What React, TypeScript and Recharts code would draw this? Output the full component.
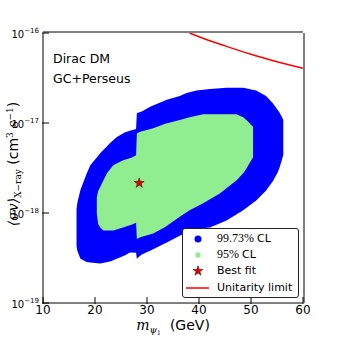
import React from 'react';
import { ComposedChart, Area, Line, Scatter, XAxis, YAxis, Legend, Customized, Symbols } from 'recharts';

// 99.73% CL region (blue): mass, lower and upper edge of <sigma v>
const blueMass = [16.45, 16.6, 17.2, 18.4, 19.1, 21.0, 22.9, 24.2, 25.8, 26.7, 27.9, 28.05, 28.4, 29.0, 30.6, 33.8, 36.3, 37.6, 39.5, 42.1, 45.3, 48.5, 51.0, 52.9, 54.2, 55.1, 55.5, 56.0, 56.2];
const blueLow = [4.3e-19, 3.8e-19, 3.1e-19, 2.85e-19, 2.82e-19, 2.75e-19, 2.9e-19, 3.1e-19, 3.4e-19, 3.65e-19, 3.62e-19, 3.1e-19, 3.25e-19, 3.45e-19, 3.8e-19, 4.7e-19, 5.6e-19, 6.1e-19, 6.7e-19, 6.9e-19, 8.25e-19, 1.07e-18, 1.38e-18, 1.78e-18, 2.25e-18, 2.8e-18, 3.2e-18, 4.0e-18, 4.4e-18];
const blueHigh = [1.1e-18, 1.3e-18, 1.8e-18, 2.75e-18, 3.4e-18, 4.6e-18, 6.0e-18, 7.0e-18, 7.9e-18, 8.2e-18, 8.6e-18, 1.29e-17, 1.31e-17, 1.34e-17, 1.52e-17, 1.81e-17, 2.0e-17, 2.15e-17, 2.3e-17, 2.38e-17, 2.47e-17, 2.47e-17, 2.3e-17, 2.0e-17, 1.66e-17, 1.4e-17, 1.3e-17, 1.15e-17, 1.08e-17];

// 95% CL region (green)
const greenMass = [20.35, 20.6, 21.0, 21.6, 22.3, 23.5, 25.4, 27.0, 27.9, 28.05, 28.7, 31.2, 33.5, 36.3, 38.2, 40.8, 44.0, 46.5, 47.2, 48.5, 49.1, 49.7, 50.4];
const greenLow = [9.9e-19, 7.6e-19, 6.9e-19, 6.4e-19, 6.4e-19, 6.4e-19, 6.9e-19, 7.4e-19, 7.8e-19, 5.15e-19, 5.37e-19, 5.9e-19, 7.0e-19, 9.1e-19, 1.07e-18, 1.28e-18, 1.65e-18, 2.14e-18, 2.3e-18, 2.76e-18, 3.1e-18, 3.57e-18, 4.17e-18];
const greenHigh = [1.5e-18, 1.75e-18, 1.94e-18, 2.3e-18, 2.76e-18, 3.4e-18, 3.86e-18, 4.1e-18, 4.38e-18, 7.67e-18, 8.0e-18, 8.73e-18, 9.8e-18, 1.08e-17, 1.16e-17, 1.25e-17, 1.25e-17, 1.25e-17, 1.25e-17, 1.16e-17, 1.08e-17, 1.0e-17, 9.0e-18];

// Unitarity limit
const unitarityMass = [38.2, 40, 45, 50, 55, 60];
const unitaritySigma = [1.0e-16, 9.1e-17, 7.2e-17, 5.8e-17, 4.8e-17, 4.05e-17];

// Best fit
const bestFitMass = [28.5];
const bestFitSigma = [2.15e-18];

// Axis ticks
const xMajor = [10, 20, 30, 40, 50, 60];
const xMinor = [12, 14, 16, 18, 22, 24, 26, 28, 32, 34, 36, 38, 42, 44, 46, 48, 52, 54, 56, 58];
const yMajor = [1e-19, 1e-18, 1e-17, 1e-16];
const yDecades = [-19, -18, -17];
const yMultipliers = [2, 3, 4, 5, 6, 7, 8, 9];
const yMinor = yDecades.flatMap((d) => yMultipliers.map((m) => m * Math.pow(10, d)));

const legendNums = ['99.73%', '95%', '', ''];
const legendWords = ['CL', 'CL', 'Best fit', 'Unitarity limit'];
const annotations = ['Dirac DM', 'GC+Perseus'];

const blueData = blueMass.map((m, i) => ({ x: m, range: [blueLow[i], blueHigh[i]] }));
const greenData = greenMass.map((m, i) => ({ x: m, range: [greenLow[i], greenHigh[i]] }));
const unitData = unitarityMass.map((m, i) => ({ x: m, y: unitaritySigma[i] }));
const bestData = bestFitMass.map((m, i) => ({ x: m, y: bestFitSigma[i] }));

const SANS = 'DejaVu Sans';
const SERIF = 'DejaVu Serif';

const BottomLabel = (props: any) => {
  const { x, y, payload } = props;
  return (
    <text x={x} y={y} textAnchor="middle" fontSize={12} fontFamily={SANS} fill="#000">
      {payload.value}
    </text>
  );
};

const LeftLabel = (props: any) => {
  const { x, y, payload } = props;
  const exp = Math.round(Math.log10(payload.value));
  return (
    <text x={x} y={y + 5} textAnchor="end" fontSize={10} fontFamily={SANS} fill="#000">
      10
      <tspan dy={-5} fontSize={7}>{'\u2212' + Math.abs(exp)}</tspan>
    </text>
  );
};

const Star = (props: any) => (
  <Symbols cx={props.cx} cy={props.cy} type="star" size={30} fill="#e60000" stroke="#5a0000" strokeWidth={0.6} />
);

const Overlay = () => (
  <g>
    <text x={53} y={63} fontSize={12.5} fontFamily={SANS} fill="#000">{annotations[0]}</text>
    <text x={53} y={83} fontSize={12.5} fontFamily={SANS} fill="#000">{annotations[1]}</text>
    <text x={173} y={330} textAnchor="middle" fontSize={14} fontFamily={SANS} fill="#000">
      <tspan fontFamily={SERIF} fontStyle="italic">m</tspan>
      <tspan fontFamily={SERIF} fontStyle="italic" fontSize={9.5} dy={3}>ψ</tspan>
      <tspan fontFamily={SERIF} fontSize={6.5} dy={2}>1</tspan>
      <tspan dy={-5}>{'\u00a0\u00a0(GeV)'}</tspan>
    </text>
    <text transform="translate(18,164) rotate(-90)" textAnchor="middle" fontSize={14} fontFamily={SANS} fill="#000">
      <tspan fontFamily={SERIF} fontStyle="italic">⟨σv⟩</tspan>
      <tspan fontFamily={SERIF} fontSize={9} dy={3}>X−ray</tspan>
      <tspan dy={-3}>{'\u00a0(cm'}</tspan>
      <tspan fontFamily={SERIF} fontSize={9} dy={-5}>3</tspan>
      <tspan fontFamily={SERIF} fontStyle="italic" dy={5}>{'\u00a0s'}</tspan>
      <tspan fontFamily={SERIF} fontSize={9} dy={-5}>−1</tspan>
      <tspan dy={5}>)</tspan>
    </text>
  </g>
);

const Marker = ({ i }: { i: number }) => {
  if (i === 0) return <svg width={30} height={14}><circle cx={15} cy={7} r={3.5} fill="#0000ff" /></svg>;
  if (i === 1) return <svg width={30} height={14}><rect x={12.5} y={4.5} width={5} height={5} fill="#90ee90" /></svg>;
  if (i === 2)
    return (
      <svg width={30} height={14}>
        <Symbols cx={15} cy={7} type="star" size={30} fill="#e60000" stroke="#5a0000" strokeWidth={0.6} />
      </svg>
    );
  return <svg width={30} height={14}><line x1={3} x2={26} y1={7} y2={7} stroke="#ff0000" strokeWidth={1.5} /></svg>;
};

const LegendBox = () => (
  <div
    style={{
      position: 'relative',
      width: 117,
      height: 70,
      border: '1px solid #222',
      borderRadius: 3,
      background: '#fff',
      boxSizing: 'border-box',
      fontFamily: SANS,
      fontSize: 11,
      color: '#000',
    }}
  >
    {legendWords.map((w, i) => (
      <div key={i} style={{ position: 'absolute', left: 0, top: 2.5 + i * 16.4, height: 14, display: 'flex', alignItems: 'center', whiteSpace: 'nowrap' }}>
        <Marker i={i} />
        <span style={{ marginLeft: 4, lineHeight: '14px' }}>
          {legendNums[i] && <span style={{ fontFamily: 'Liberation Serif', fontSize: 12 }}>{legendNums[i] + ' '}</span>}
          {w}
        </span>
      </div>
    ))}
  </div>
);

const stroke = { stroke: '#000', strokeWidth: 1 };
const xCommon = { dataKey: 'x', type: 'number' as const, domain: [10, 60], allowDataOverflow: true, interval: 0 as const };
const yCommon = { type: 'number' as const, scale: 'log' as const, domain: [1e-19, 1e-16], allowDataOverflow: true, interval: 0 as const };

export default function App() {
  return (
    <div style={{ position: 'absolute', left: 0, top: 0, width: 338, height: 338, background: '#fff', fontFamily: SANS }}>
      <ComposedChart width={338} height={338} margin={{ top: 31, right: 33, bottom: 0, left: 0 }}>
        {/* axes adjacent to the plot: frame + minor ticks */}
        <XAxis xAxisId={0} {...xCommon} ticks={xMinor} tickSize={-3} tickLine={stroke} tick={false} axisLine={stroke} height={1} />
        <XAxis xAxisId="top" orientation="top" {...xCommon} ticks={xMinor} tickSize={-3} tickLine={stroke} tick={false} axisLine={stroke} height={1} />
        <YAxis yAxisId={0} {...yCommon} ticks={yMinor} tickSize={-3} tickLine={stroke} tick={false} axisLine={stroke} width={1} />
        <YAxis yAxisId="right" orientation="right" {...yCommon} ticks={yMinor} tickSize={-3} tickLine={stroke} tick={false} axisLine={stroke} width={1} />
        {/* outer axes: major ticks and labels */}
        <XAxis xAxisId="bMajor" {...xCommon} ticks={xMajor} tickSize={-7} tickMargin={17} tickLine={stroke} tick={BottomLabel} axisLine={false} height={34} />
        <XAxis xAxisId="tMajor" orientation="top" {...xCommon} ticks={xMajor} tickSize={-7} tickLine={stroke} tick={false} axisLine={false} height={1} />
        <YAxis yAxisId="lMajor" {...yCommon} ticks={yMajor} tickSize={-7} tickMargin={10} tickLine={stroke} tick={LeftLabel} axisLine={false} width={42} />
        <YAxis yAxisId="rMajor" orientation="right" {...yCommon} ticks={yMajor} tickSize={-7} tickLine={stroke} tick={false} axisLine={false} width={1} />
        <Area
          data={blueData}
          dataKey="range"
          type="linear"
          stroke="none"
          fill="#0000ff"
          fillOpacity={1}
          isAnimationActive={false}
          dot={false}
          activeDot={false}
        />
        <Area
          data={greenData}
          dataKey="range"
          type="linear"
          stroke="none"
          fill="#90ee90"
          fillOpacity={1}
          isAnimationActive={false}
          dot={false}
          activeDot={false}
        />
        <Scatter data={bestData} dataKey="y" shape={Star} isAnimationActive={false} />
        <Line
          data={unitData}
          dataKey="y"
          xAxisId="top"
          yAxisId="right"
          type="monotone"
          stroke="#ff0000"
          strokeWidth={1.5}
          dot={false}
          activeDot={false}
          isAnimationActive={false}
        />
        <Customized component={Overlay} />
        <Legend
          layout="vertical"
          align="center"
          verticalAlign="middle"
          content={LegendBox}
          wrapperStyle={{ left: 182, top: 228, width: 117, height: 70 }}
        />
      </ComposedChart>
    </div>
  );
}
